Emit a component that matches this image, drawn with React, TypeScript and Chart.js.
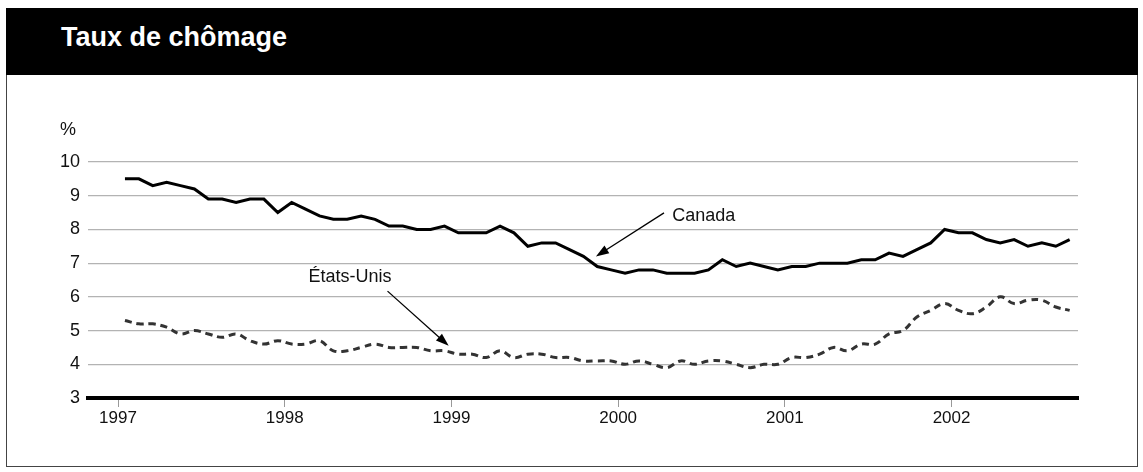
import React, { useEffect, useRef } from "react";
import { Chart, registerables } from "chart.js";

Chart.register(...registerables);

// Monthly unemployment rates, January 1997 to September 2002 (%)
const canada = [
  9.5, 9.5, 9.3, 9.4, 9.3, 9.2, 8.9, 8.9, 8.8, 8.9, 8.9, 8.5,
  8.8, 8.6, 8.4, 8.3, 8.3, 8.4, 8.3, 8.1, 8.1, 8.0, 8.0, 8.1,
  7.9, 7.9, 7.9, 8.1, 7.9, 7.5, 7.6, 7.6, 7.4, 7.2, 6.9, 6.8,
  6.7, 6.8, 6.8, 6.7, 6.7, 6.7, 6.8, 7.1, 6.9, 7.0, 6.9, 6.8,
  6.9, 6.9, 7.0, 7.0, 7.0, 7.1, 7.1, 7.3, 7.2, 7.4, 7.6, 8.0,
  7.9, 7.9, 7.7, 7.6, 7.7, 7.5, 7.6, 7.5, 7.7,
];

const etatsUnis = [
  5.3, 5.2, 5.2, 5.1, 4.9, 5.0, 4.9, 4.8, 4.9, 4.7, 4.6, 4.7,
  4.6, 4.6, 4.7, 4.4, 4.4, 4.5, 4.6, 4.5, 4.5, 4.5, 4.4, 4.4,
  4.3, 4.3, 4.2, 4.4, 4.2, 4.3, 4.3, 4.2, 4.2, 4.1, 4.1, 4.1,
  4.0, 4.1, 4.0, 3.9, 4.1, 4.0, 4.1, 4.1, 4.0, 3.9, 4.0, 4.0,
  4.2, 4.2, 4.3, 4.5, 4.4, 4.6, 4.6, 4.9, 5.0, 5.4, 5.6, 5.8,
  5.6, 5.5, 5.7, 6.0, 5.8, 5.9, 5.9, 5.7, 5.6,
];

const yearLabels = ["1997", "1998", "1999", "2000", "2001", "2002"];
const yearTickMonths = [0, 12, 24, 36, 48, 60];

const FONT = "'Liberation Sans', Arial, Helvetica, sans-serif";

// months elapsed since January 1997; each monthly value sits mid-month
const toPoints = (values: number[]) => values.map((v, i) => ({ x: i + 0.5, y: v }));

function drawArrow(ctx: CanvasRenderingContext2D, x1: number, y1: number, x2: number, y2: number) {
  const ang = Math.atan2(y2 - y1, x2 - x1);
  const len = 13;
  const half = 4.5;
  ctx.save();
  ctx.strokeStyle = "#000";
  ctx.fillStyle = "#000";
  ctx.lineWidth = 1.3;
  ctx.beginPath();
  ctx.moveTo(x1, y1);
  ctx.lineTo(x2 - Math.cos(ang) * (len - 2), y2 - Math.sin(ang) * (len - 2));
  ctx.stroke();
  ctx.beginPath();
  ctx.moveTo(x2, y2);
  ctx.lineTo(
    x2 - Math.cos(ang) * len + Math.sin(ang) * half,
    y2 - Math.sin(ang) * len - Math.cos(ang) * half
  );
  ctx.lineTo(
    x2 - Math.cos(ang) * len - Math.sin(ang) * half,
    y2 - Math.sin(ang) * len + Math.cos(ang) * half
  );
  ctx.closePath();
  ctx.fill();
  ctx.restore();
}

// Series labels with pointer arrows, plus the "%" unit above the value axis
const labelsPlugin = {
  id: "seriesLabels",
  afterDatasetsDraw(chart: any) {
    const { ctx, scales, chartArea } = chart;
    const xs = scales.x;
    const ys = scales.y;
    const px = (m: number) => xs.getPixelForValue(m);
    const py = (v: number) => ys.getPixelForValue(v);

    ctx.save();
    ctx.font = `18px ${FONT}`;
    ctx.fillStyle = "#111";
    ctx.textBaseline = "middle";
    ctx.textAlign = "left";

    // unit
    ctx.fillText("%", chartArea.left - 28, chartArea.top - 32);

    // Canada
    ctx.fillText("Canada", px(39.9), py(8.4));
    drawArrow(ctx, px(39.3), py(8.49), px(34.4), py(7.2));

    // États-Unis
    ctx.textAlign = "center";
    ctx.fillText("États-Unis", px(16.7), py(6.59));
    drawArrow(ctx, px(19.4), py(6.17), px(23.8), py(4.55));
    ctx.restore();
  },
};

export default function App() {
  const canvasRef = useRef<HTMLCanvasElement | null>(null);

  useEffect(() => {
    const canvas = canvasRef.current;
    if (!canvas) return;
    const chart = new Chart(canvas, {
      type: "line",
      data: {
        datasets: [
          {
            label: "États-Unis",
            data: toPoints(etatsUnis),
            borderColor: "#333",
            borderWidth: 3,
            borderDash: [7, 5],
            pointRadius: 0,
            tension: 0.4,
            fill: false,
          },
          {
            label: "Canada",
            data: toPoints(canada),
            borderColor: "#000",
            borderWidth: 3,
            pointRadius: 0,
            tension: 0,
            fill: false,
          },
        ],
      },
      options: {
        responsive: false,
        animation: false,
        events: [],
        layout: { padding: { left: 48, right: 65, top: 162, bottom: 44 } },
        plugins: {
          legend: { display: false },
          title: { display: false },
          tooltip: { enabled: false },
        },
        scales: {
          x: {
            type: "linear",
            min: -2.16,
            max: 69.1,
            afterBuildTicks: (scale: any) => {
              scale.ticks = yearTickMonths.map((v) => ({ value: v }));
            },
            afterFit: (scale: any) => {
              scale.height = 30;
            },
            ticks: {
              autoSkip: false,
              maxRotation: 0,
              padding: 1,
              color: "#111",
              font: { family: FONT, size: 17 },
              callback: (value: any) => {
                const idx = yearTickMonths.indexOf(Number(value));
                return idx >= 0 ? yearLabels[idx] : "";
              },
            },
            grid: {
              drawOnChartArea: false,
              drawTicks: true,
              tickLength: 9,
              color: "#999",
              lineWidth: 1,
            },
            border: { display: true, color: "#000", width: 4 },
          },
          y: {
            min: 3,
            max: 10,
            afterFit: (scale: any) => {
              scale.width = 40;
            },
            ticks: {
              stepSize: 1,
              padding: 8,
              color: "#111",
              font: { family: FONT, size: 18 },
            },
            grid: {
              drawTicks: false,
              color: "#b3b3b3",
              lineWidth: 1.2,
            },
            border: { display: false },
          },
        },
      },
      plugins: [labelsPlugin],
    });
    return () => chart.destroy();
  }, []);

  return (
    <div style={{ position: "absolute", left: 0, top: 0, width: 1143, height: 472, background: "#fff" }}>
      <div
        style={{
          position: "absolute",
          left: 6,
          top: 8,
          width: 1130,
          height: 457,
          border: "1px solid #444",
        }}
      />
      <div
        style={{
          position: "absolute",
          left: 6,
          top: 8,
          width: 1132,
          height: 67,
          background: "#000",
        }}
      >
        <span
          style={{
            position: "absolute",
            left: 55,
            top: 16,
            color: "#fff",
            fontFamily: FONT,
            fontWeight: "bold",
            fontSize: 27,
            lineHeight: "27px",
            whiteSpace: "nowrap",
          }}
        >
          Taux de chômage
        </span>
      </div>
      <canvas
        ref={canvasRef}
        width={1143}
        height={472}
        style={{ position: "absolute", left: 0, top: 0, width: 1143, height: 472 }}
      />
    </div>
  );
}
